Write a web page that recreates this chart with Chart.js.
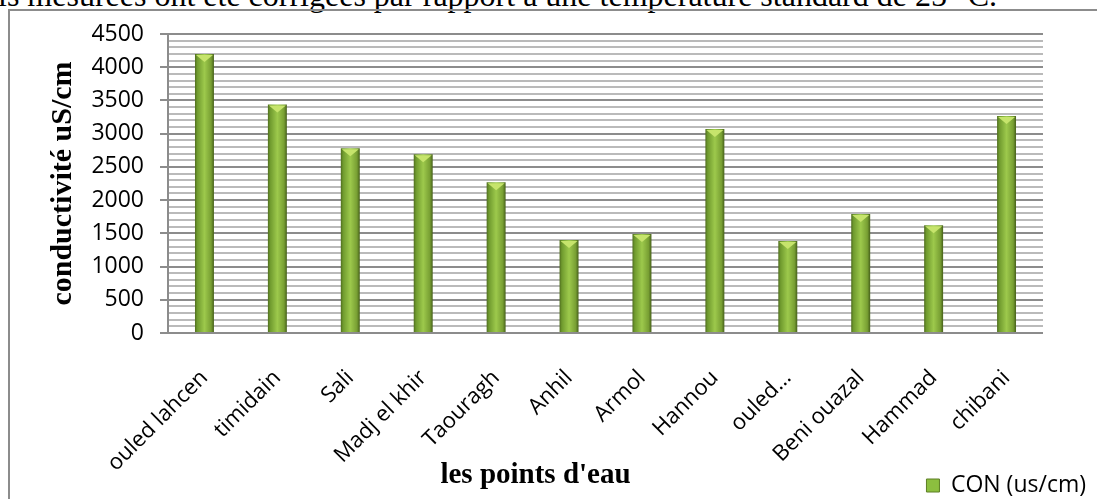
<!DOCTYPE html>
<html>
<head>
<meta charset="utf-8">
<script src="https://cdn.jsdelivr.net/npm/chart.js@4/dist/chart.umd.min.js"></script>
<style>
  body { margin: 0; background: #fff; overflow: hidden; width: 1097px; height: 499px; position: relative; }
  #topline { position: absolute; left: -2px; top: -21px; font: 32px "Liberation Serif", serif; line-height: 32px; white-space: nowrap; color: #000; }
  #frame { position: absolute; left: 8px; top: 9px; width: 1100px; height: 500px; border: 2px solid #8c8c8c; }
  #frame canvas { display: block; }
</style>
</head>
<body>
<div id="topline">ls mesurées ont été corrigées par rapport à une température standard de 25 °C.</div>
<div id="frame"><canvas id="myChart" width="1100" height="496"></canvas></div>
<script>
const points = ['ouled lahcen', 'timidain', 'Sali', 'Madj el khir', 'Taouragh', 'Anhil', 'Armol', 'Hannou', 'ouled…', 'Beni ouazal', 'Hammad', 'chibani']
const conductivity = [4200, 3440, 2780, 2690, 2270, 1400, 1490, 3070, 1385, 1790, 1620, 3265]
const seriesName = 'CON (us/cm)'
const yTitle = 'conductivité uS/cm'
const xTitle = "les points d'eau"
const yMax = 4500
const majorStep = 500
const minorStep = 100

const barPct = 0.26
const areaBottom = 322

function barFill(c) {
  const chart = c.chart
  const area = chart.chartArea
  if (!area || c.dataIndex === undefined) return '#8cbf3f'
  const x = chart.scales.x.getPixelForValue(c.dataIndex)
  const w = area.width / points.length * barPct
  const g = chart.ctx.createLinearGradient(x - w / 2, 0, x + w / 2, 0)
  g.addColorStop(0, '#4f6d1e')
  g.addColorStop(0.12, '#6f9a2e')
  g.addColorStop(0.5, '#9dc94c')
  g.addColorStop(0.85, '#789f33')
  g.addColorStop(1, '#46601a')
  return g
}

// light bevel triangle on top of each bar
const bevel = {
  id: 'bevel',
  afterDatasetsDraw(chart) {
    const ctx = chart.ctx
    chart.getDatasetMeta(0).data.forEach(bar => {
      const {x, y, width} = bar.getProps(['x', 'y', 'width'], true)
      ctx.save()
      ctx.fillStyle = '#c6e46c'
      ctx.beginPath()
      ctx.moveTo(x - width / 2 + 1, y + 1)
      ctx.lineTo(x + width / 2 - 1, y + 1)
      ctx.lineTo(x, y + 8)
      ctx.closePath()
      ctx.fill()
      ctx.restore()
    })
  }
}

// x axis title, sitting left of the legend like in the original
const xAxisTitle = {
  id: 'xAxisTitle',
  afterLayout(chart) {
    // long rotated labels run down past the legend row, don't clip them
    chart.scales.x.bottom = chart.height
  },
  afterDraw(chart) {
    const a = chart.chartArea
    const ctx = chart.ctx
    ctx.save()
    ctx.font = 'bold 29px "Liberation Serif", serif'
    ctx.fillStyle = '#000'
    ctx.textAlign = 'center'
    ctx.textBaseline = 'middle'
    ctx.fillText(xTitle, a.left + a.width * 0.42, a.bottom + 143)
    ctx.restore()
  }
}

const ctx = document.getElementById('myChart').getContext('2d')

const chart = new Chart(ctx, {
  type: 'bar',
  data: {
    labels: points,
    datasets: [{
      label: seriesName,
      data: conductivity,
      backgroundColor: barFill,
      borderWidth: 0,
      barPercentage: barPct,
      categoryPercentage: 1
    }]
  },
  options: {
    responsive: false,
    animation: false,
    layout: { padding: { left: 10, right: 20, top: 23, bottom: 0 } },
    plugins: {
      tooltip: { enabled: false },
      legend: {
        position: 'bottom',
        align: 'end',
        labels: {
          font: { family: '"Open Sans", sans-serif', size: 23 },
          color: '#000',
          boxWidth: 13,
          boxHeight: 13,
          padding: 4,
          generateLabels: () => [{ text: seriesName, fillStyle: '#8cbf3f', strokeStyle: '#5d7f25', lineWidth: 1, datasetIndex: 0 }]
        }
      }
    },
    scales: {
      x: {
        grid: { display: false, drawTicks: false },
        border: { display: false },
        ticks: {
          minRotation: 45,
          maxRotation: 45,
          autoSkip: false,
          padding: 32,
          color: '#000',
          font: { family: '"Open Sans", sans-serif', size: 22 }
        },
        afterFit(scale) { scale.height = scale.chart.height - scale.chart.legend.height - areaBottom }
      },
      y: {
        min: 0,
        max: yMax,
        border: { color: '#8c8c8c', width: 2 },
        grid: {
          lineWidth: 2,
          tickLength: 8,
          color: c => (c.tick && c.tick.value % majorStep === 0) ? '#8c8c8c' : '#bababa',
          tickColor: c => (c.tick && c.tick.value % majorStep === 0) ? '#8c8c8c' : 'rgba(0,0,0,0)'
        },
        ticks: {
          stepSize: minorStep,
          autoSkip: false,
          padding: 16,
          color: '#000',
          font: { family: '"Open Sans", sans-serif', size: 23, lineHeight: 0.5 },
          callback: v => v % majorStep === 0 ? String(v) : ''
        },
        title: {
          display: true,
          text: yTitle,
          color: '#000',
          font: { family: '"Liberation Serif", serif', size: 30, weight: 'bold' },
          padding: { top: 25, bottom: 0 }
        },
        afterFit(scale) { scale.width = 148 }
      },
      // empty right-hand axis, only keeps the plot clear of the legend column
      yRight: {
        type: 'linear',
        position: 'right',
        min: 0,
        max: 1,
        grid: { display: false },
        border: { display: false },
        ticks: { display: false },
        afterFit(scale) { scale.width = 47 }
      }
    }
  },
  plugins: [bevel, xAxisTitle]
})
</script>
</body>
</html>
